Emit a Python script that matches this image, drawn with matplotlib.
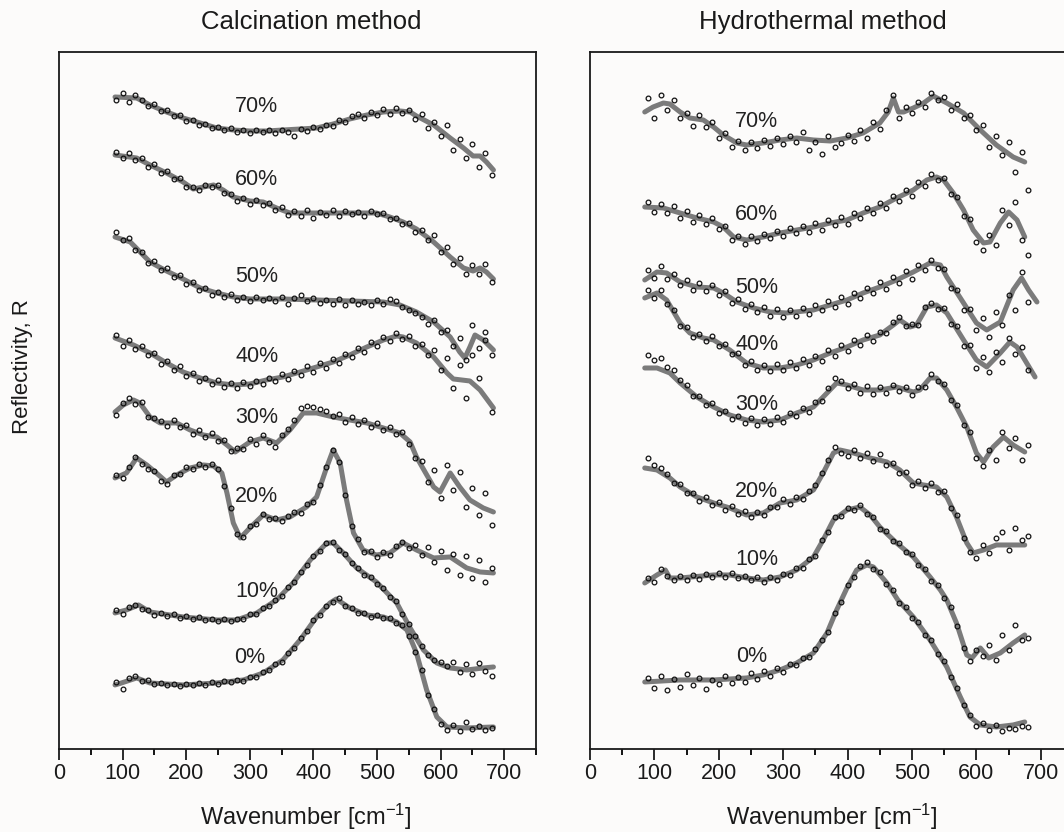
import matplotlib
matplotlib.use('Agg')
import matplotlib.pyplot as plt
import numpy as np

plt.rcParams['font.family'] = ['Liberation Sans', 'DejaVu Sans']
plt.rcParams['mathtext.fontset'] = 'custom'
plt.rcParams['mathtext.rm'] = 'Liberation Sans'
plt.rcParams['mathtext.default'] = 'regular'

# ---- data: stacked reflectivity, units of 0.01 (offset included) ----
labels = ['0%', '10%', '20%', '30%', '40%', '50%', '60%', '70%']
pts_x = np.arange(90, 690, 10)

# Calcination method: fitted curves (x knots, y) and measured points on pts_x
cal_00_x = [88, 98, 122, 143, 195, 248, 290, 321, 352, 379, 405, 426, 436, 457, 484, 510, 531, 547, 562, 578, 594, 610, 641, 683]
cal_00_y = [65, 67, 72, 67, 65, 67, 70, 77, 90, 110, 133, 147, 151, 142, 135, 133, 128, 120, 97, 60, 33, 23, 22, 23]
cal_00_p = [68, 61, 72, 74, 69, 70, 66, 67, 65, 66, 64, 66, 65, 67, 65, 68, 66, 69, 68, 70,
            69, 73, 73, 78, 80, 86, 88, 97, 102, 112, 119, 130, 135, 144, 148, 152, 144, 142, 137, 137,
            133, 135, 132, 132, 127, 125, 114, 98, 80, 55, 41, 26, 20, 25, 19, 28, 21, 24, 20, 22]

cal_10_x = [88, 106, 125, 143, 195, 248, 279, 311, 342, 368, 395, 421, 431, 447, 468, 499, 531, 552, 573, 594, 615, 641, 667, 683]
cal_10_y = [137, 140, 145, 138, 133, 130, 130, 137, 150, 167, 190, 207, 207, 197, 182, 168, 147, 122, 100, 87, 82, 80, 82, 83]
cal_10_p = [140, 136, 143, 145, 141, 140, 135, 137, 134, 136, 132, 134, 131, 133, 130, 131, 129, 131, 129, 131,
            131, 136, 136, 142, 144, 150, 154, 163, 168, 178, 185, 194, 199, 207, 208, 200, 196, 187, 182, 175,
            173, 166, 162, 153, 149, 136, 126, 114, 104, 95, 90, 88, 84, 88, 78, 86, 76, 87, 79, 74]

cal_20_x = [88, 106, 122, 138, 153, 169, 185, 206, 227, 243, 256, 264, 274, 285, 300, 321, 342, 363, 389, 405, 421, 431,
            442, 452, 463, 478, 499, 520, 541, 562, 589, 615, 641, 662, 683]
cal_20_y = [272, 277, 292, 285, 277, 268, 275, 282, 285, 284, 277, 257, 227, 212, 222, 235, 230, 233, 243, 253, 283, 300,
            287, 250, 217, 200, 195, 197, 207, 200, 192, 193, 182, 178, 177]
cal_20_p = [275, 272, 283, 293, 286, 281, 279, 269, 266, 275, 276, 283, 281, 286, 283, 286, 281, 264, 242, 216,
            213, 224, 226, 236, 231, 232, 229, 234, 238, 237, 246, 248, 265, 283, 300, 288, 255, 224, 211, 198,
            199, 193, 198, 195, 204, 208, 202, 205, 195, 203, 188, 199, 180, 196, 175, 194, 172, 190, 168, 182]

cal_30_x = [88, 101, 117, 127, 143, 159, 185, 206, 227, 248, 264, 277, 300, 321, 342, 363, 384, 405, 431, 457, 484, 510,
            536, 552, 562, 589, 599, 615, 630, 646, 667, 683]
cal_30_y = [338, 345, 350, 347, 333, 327, 327, 320, 315, 313, 305, 298, 308, 312, 307, 320, 337, 337, 333, 330, 327, 322,
            317, 308, 293, 263, 258, 277, 263, 250, 242, 238]
cal_30_p = [335, 347, 352, 346, 348, 333, 332, 329, 324, 330, 323, 325, 316, 320, 313, 317, 309, 310, 299, 302,
            301, 311, 306, 315, 308, 303, 315, 321, 330, 342, 344, 343, 341, 339, 334, 336, 328, 333, 326, 330,
            323, 327, 320, 323, 316, 318, 306, 292, 289, 268, 280, 252, 285, 260, 278, 243, 262, 235, 257, 225]

cal_40_x = [88, 117, 143, 169, 195, 222, 248, 274, 300, 326, 352, 379, 405, 431, 457, 484, 510, 531, 541, 562, 589, 610,
            620, 646, 662, 683]
cal_40_y = [412, 405, 397, 387, 378, 372, 367, 365, 366, 370, 373, 378, 383, 388, 395, 403, 410, 414, 413, 407, 393, 377,
            371, 369, 360, 342]
cal_40_p = [415, 404, 410, 401, 404, 395, 397, 386, 389, 380, 384, 374, 377, 369, 372, 366, 370, 363, 367, 362,
            368, 364, 369, 366, 372, 369, 376, 371, 379, 375, 384, 378, 387, 382, 391, 387, 396, 393, 402, 398,
            408, 404, 413, 409, 417, 411, 414, 404, 406, 395, 400, 380, 392, 362, 385, 352, 395, 372, 410, 338]

cal_50_x = [88, 112, 143, 169, 195, 222, 248, 274, 300, 352, 405, 457, 510, 536, 562, 589, 615, 630, 638, 646, 654, 667, 683]
cal_50_y = [513, 508, 488, 479, 471, 462, 457, 453, 451, 451, 450, 449, 448, 445, 438, 428, 413, 398, 392, 403, 415, 410, 400]
cal_50_p = [518, 510, 512, 500, 498, 487, 489, 480, 482, 473, 475, 466, 468, 460, 462, 455, 458, 453, 456, 450,
            453, 449, 453, 450, 452, 449, 453, 446, 452, 455, 449, 452, 447, 450, 446, 451, 445, 450, 446, 448,
            445, 450, 446, 451, 449, 443, 440, 437, 433, 426, 430, 418, 420, 404, 412, 390, 425, 402, 418, 395]

cal_60_x = [88, 122, 143, 169, 195, 211, 227, 243, 258, 274, 300, 321, 342, 363, 405, 457, 499, 520, 541, 562, 589, 615,
            636, 651, 662, 672, 683]
cal_60_y = [595, 592, 585, 577, 568, 561, 563, 565, 560, 553, 549, 548, 542, 537, 537, 537, 537, 533, 528, 521, 508, 493,
            482, 479, 482, 478, 471]
cal_60_p = [598, 592, 597, 590, 592, 583, 586, 577, 579, 571, 572, 563, 563, 560, 565, 563, 565, 557, 556, 549,
            552, 546, 550, 545, 547, 540, 543, 535, 539, 534, 540, 532, 538, 535, 540, 534, 539, 536, 538, 534,
            539, 536, 537, 531, 532, 526, 527, 518, 520, 510, 515, 498, 503, 486, 492, 476, 485, 476, 486, 468]

cal_70_x = [88, 122, 143, 169, 195, 222, 248, 274, 300, 326, 352, 379, 405, 431, 457, 484, 510, 536, 552, 562, 589, 615,
            636, 651, 662, 672, 683]
cal_70_y = [653, 652, 645, 638, 632, 627, 622, 620, 619, 619, 620, 621, 622, 626, 631, 635, 638, 639, 638, 634, 625, 612,
            602, 594, 594, 588, 580]
cal_70_p = [650, 657, 648, 655, 650, 644, 646, 639, 640, 634, 635, 629, 630, 625, 626, 622, 623, 620, 622, 618,
            620, 617, 620, 618, 620, 617, 620, 618, 614, 621, 619, 623, 621, 625, 624, 630, 628, 634, 636, 632,
            638, 635, 641, 636, 642, 637, 640, 631, 636, 622, 628, 614, 625, 600, 611, 592, 606, 583, 597, 575]

# Hydrothermal method
hyd_00_x = [85, 140, 192, 243, 269, 295, 321, 347, 368, 383, 399, 414, 430, 440, 461, 478, 502, 528, 554, 575, 590, 606, 631, 657, 675]
hyd_00_y = [68, 70, 70, 72, 75, 80, 87, 97, 117, 140, 162, 180, 185, 183, 167, 150, 133, 110, 83, 53, 33, 25, 23, 25, 28]
hyd_00_p = [72, 62, 74, 60, 71, 63, 76, 65, 72, 61, 70, 66, 74, 67, 73, 68, 77, 71, 79, 74,
            82, 78, 86, 85, 92, 93, 101, 110, 118, 137, 148, 165, 173, 184, 188, 181, 178, 166, 160, 147,
            143, 132, 128, 115, 110, 96, 89, 73, 62, 45, 35, 24, 27, 20, 25, 19, 22, 21, 24, 23]

hyd_10_x = [85, 104, 117, 124, 140, 192, 217, 243, 269, 295, 321, 347, 362, 378, 399, 419, 435, 450, 476, 502, 528, 544,
            554, 569, 585, 593, 606, 619, 637, 657, 675]
hyd_10_y = [167, 175, 180, 172, 172, 175, 175, 172, 170, 173, 180, 193, 210, 230, 240, 243, 235, 223, 207, 193, 173, 160,
            150, 127, 95, 92, 102, 92, 97, 107, 115]
hyd_10_p = [172, 168, 181, 174, 170, 174, 170, 175, 171, 176, 173, 177, 173, 177, 172, 174, 170, 173, 168, 173,
            170, 176, 175, 182, 182, 191, 194, 210, 218, 233, 234, 242, 240, 245, 236, 233, 221, 219, 209, 207,
            198, 196, 185, 181, 169, 165, 152, 143, 124, 102, 89, 100, 94, 105, 90, 115, 100, 125, 110, 112]

hyd_20_x = [85, 104, 124, 140, 166, 192, 217, 243, 269, 295, 321, 347, 362, 378, 388, 409, 435, 461, 481, 502, 518, 538,
            554, 569, 585, 595, 611, 631, 657, 675]
hyd_20_y = [282, 280, 272, 263, 253, 247, 242, 235, 237, 247, 250, 260, 277, 297, 300, 297, 292, 288, 280, 267, 265, 263,
            253, 233, 207, 197, 200, 205, 205, 205]
hyd_20_p = [292, 285, 282, 276, 267, 266, 257, 257, 249, 253, 245, 248, 240, 244, 236, 239, 233, 238, 235, 243,
            243, 251, 246, 253, 251, 259, 265, 277, 290, 303, 297, 294, 300, 292, 297, 289, 296, 285, 287, 277,
            278, 265, 269, 262, 267, 258, 259, 242, 235, 212, 198, 192, 205, 197, 212, 218, 200, 222, 210, 214]

hyd_30_x = [85, 104, 124, 140, 166, 192, 217, 243, 269, 295, 321, 347, 368, 383, 399, 424, 450, 476, 502, 512, 528, 538,
            554, 569, 585, 600, 611, 626, 642, 657, 675]
hyd_30_y = [382, 382, 377, 367, 353, 343, 335, 330, 328, 330, 337, 343, 357, 367, 365, 360, 360, 363, 358, 360, 372, 372,
            360, 343, 323, 297, 288, 303, 313, 305, 298]
hyd_30_p = [395, 390, 392, 383, 380, 370, 365, 354, 354, 345, 347, 337, 339, 331, 334, 327, 332, 325, 331, 326,
            333, 328, 337, 334, 342, 338, 348, 349, 362, 372, 369, 362, 366, 357, 364, 356, 363, 357, 365, 359,
            363, 355, 363, 363, 376, 369, 366, 350, 345, 325, 318, 292, 284, 300, 290, 318, 302, 312, 290, 305]

hyd_40_x = [85, 104, 119, 140, 155, 176, 192, 217, 243, 269, 295, 321, 347, 373, 399, 424, 450, 471, 481, 497, 507, 523,
            538, 554, 580, 600, 616, 637, 652, 663, 678, 691]
hyd_40_y = [452, 457, 450, 427, 417, 412, 410, 400, 387, 382, 382, 385, 390, 397, 403, 410, 415, 425, 430, 423, 425, 443,
            445, 437, 410, 390, 383, 397, 408, 403, 387, 373]
hyd_40_p = [460, 452, 460, 446, 440, 424, 423, 413, 416, 409, 414, 404, 406, 396, 397, 385, 389, 380, 385, 379,
            386, 380, 388, 382, 391, 385, 394, 389, 400, 394, 405, 399, 410, 405, 415, 409, 418, 417, 428, 433,
            424, 426, 425, 443, 447, 441, 442, 426, 424, 404, 405, 382, 393, 378, 398, 388, 412, 396, 403, 380]

hyd_50_x = [85, 104, 119, 140, 166, 192, 207, 228, 254, 280, 305, 347, 373, 399, 424, 450, 476, 502, 528, 544, 554, 580,
            600, 616, 637, 657, 670, 681, 694]
hyd_50_y = [470, 478, 477, 468, 463, 462, 457, 448, 442, 438, 437, 440, 445, 450, 457, 463, 470, 478, 487, 485, 473, 447,
            427, 420, 428, 460, 472, 460, 448]
hyd_50_p = [480, 472, 484, 471, 476, 465, 470, 460, 467, 459, 465, 455, 459, 447, 451, 441, 446, 438, 443, 434,
            441, 433, 440, 434, 442, 436, 445, 440, 449, 443, 453, 446, 457, 452, 462, 457, 468, 461, 473, 467,
            479, 471, 485, 480, 490, 482, 481, 462, 460, 440, 441, 420, 432, 413, 438, 425, 455, 440, 478, 448]

hyd_60_x = [85, 114, 140, 166, 192, 207, 223, 243, 269, 295, 321, 347, 373, 399, 424, 450, 476, 502, 523, 538, 549, 564,
            580, 595, 611, 621, 637, 650, 663, 675]
hyd_60_y = [543, 542, 537, 532, 528, 523, 513, 510, 513, 517, 520, 523, 527, 530, 537, 543, 552, 560, 570, 573, 570, 557,
            540, 520, 507, 508, 527, 538, 530, 513]
hyd_60_p = [548, 538, 546, 537, 544, 532, 539, 528, 535, 526, 532, 521, 524, 510, 514, 506, 514, 509, 516, 512,
            519, 514, 522, 517, 524, 518, 527, 520, 530, 525, 533, 526, 537, 532, 542, 537, 547, 542, 554, 549,
            560, 554, 568, 564, 576, 570, 572, 556, 553, 534, 531, 508, 500, 515, 505, 540, 525, 548, 510, 495]

hyd_70_x = [85, 98, 114, 124, 140, 155, 176, 192, 207, 228, 243, 269, 295, 321, 347, 373, 399, 424, 450, 463, 471, 479,
            487, 502, 518, 533, 554, 580, 606, 631, 657, 675]
hyd_70_y = [638, 643, 647, 646, 638, 632, 630, 623, 615, 607, 605, 607, 610, 612, 610, 609, 612, 617, 627, 638, 652, 638,
            638, 642, 647, 654, 647, 637, 620, 605, 593, 588]
hyd_70_p = [652, 632, 655, 640, 650, 632, 637, 624, 635, 623, 628, 612, 617, 603, 609, 600, 608, 602, 610, 604,
            612, 606, 614, 608, 618, 600, 608, 596, 614, 603, 607, 615, 609, 620, 612, 628, 621, 640, 655, 632,
            643, 637, 648, 643, 657, 650, 653, 640, 646, 632, 635, 620, 625, 603, 614, 595, 608, 578, 598, 560]

cal_curves = [(cal_00_x, cal_00_y, cal_00_p), (cal_10_x, cal_10_y, cal_10_p), (cal_20_x, cal_20_y, cal_20_p),
              (cal_30_x, cal_30_y, cal_30_p), (cal_40_x, cal_40_y, cal_40_p), (cal_50_x, cal_50_y, cal_50_p),
              (cal_60_x, cal_60_y, cal_60_p), (cal_70_x, cal_70_y, cal_70_p)]
hyd_curves = [(hyd_00_x, hyd_00_y, hyd_00_p), (hyd_10_x, hyd_10_y, hyd_10_p), (hyd_20_x, hyd_20_y, hyd_20_p),
              (hyd_30_x, hyd_30_y, hyd_30_p), (hyd_40_x, hyd_40_y, hyd_40_p), (hyd_50_x, hyd_50_y, hyd_50_p),
              (hyd_60_x, hyd_60_y, hyd_60_p), (hyd_70_x, hyd_70_y, hyd_70_p)]

# label placement (layout only)
cal_lab_x = [300, 311, 311, 311, 311, 311, 311, 311]
cal_lab_y = [92, 158, 253, 332, 393, 473, 570, 643]
hyd_lab_x = [251, 259, 259, 259, 259, 259, 259, 259]
hyd_lab_y = [93, 190, 258, 345, 405, 462, 535, 628]

bg = '#fcfbfa'
fig = plt.figure(figsize=(10.64, 8.32), dpi=100, facecolor=bg)
ax1 = fig.add_axes([0.0555, 0.0998, 0.4483, 0.8377])
ax2 = fig.add_axes([0.5545, 0.0998, 0.4540, 0.8377])


def draw_panel(ax, curves, lab_x, lab_y):
    ax.set_facecolor(bg)
    for (fx, fy, p), lab, lx, ly in zip(curves, labels, lab_x, lab_y):
        ax.plot(fx, np.array(fy) / 100, color='#7b7b7b', lw=3.6,
                solid_joinstyle='round', solid_capstyle='round', zorder=2)
        ax.plot(pts_x, np.array(p) / 100, 'o', ms=3.4, mfc='none', mec='#111111',
                mew=0.9, zorder=3)
        ax.text(lx, ly / 100, lab, ha='center', va='center', fontsize=15.5,
                color='#222222', zorder=4)
    ax.set_xlim(0, 750)
    ax.set_ylim(0.01, 6.98)
    ax.set_xticks(range(0, 800, 100))
    ax.set_xticks(range(50, 800, 100), minor=True)
    ax.set_yticks([])
    ax.tick_params(axis='x', which='major', direction='out', length=8, width=1.3,
                   labelsize=15.5, pad=2, colors='#1a1a1a')
    ax.tick_params(axis='x', which='minor', direction='out', length=4.5, width=1.3)
    for s in ax.spines.values():
        s.set_linewidth(1.3)
        s.set_color('#1a1a1a')


draw_panel(ax1, cal_curves, cal_lab_x, cal_lab_y)
draw_panel(ax2, hyd_curves, hyd_lab_x, hyd_lab_y)

fig.text(0.2923, 0.9736, 'Calcination method', ha='center', va='center', fontsize=18.5, color='#1a1a1a')
fig.text(0.7735, 0.9736, 'Hydrothermal method', ha='center', va='center', fontsize=18.5, color='#1a1a1a')
fig.text(0.2876, 0.018, 'Wavenumber [cm$^{-1}$]', ha='center', va='center', fontsize=17, color='#1a1a1a')
fig.text(0.782, 0.018, 'Wavenumber [cm$^{-1}$]', ha='center', va='center', fontsize=17, color='#1a1a1a')
fig.text(0.021, 0.56, 'Reflectivity, R', ha='center', va='center', rotation=90, fontsize=16, color='#1a1a1a')

fig.savefig('out.png', dpi=100, facecolor=bg)
